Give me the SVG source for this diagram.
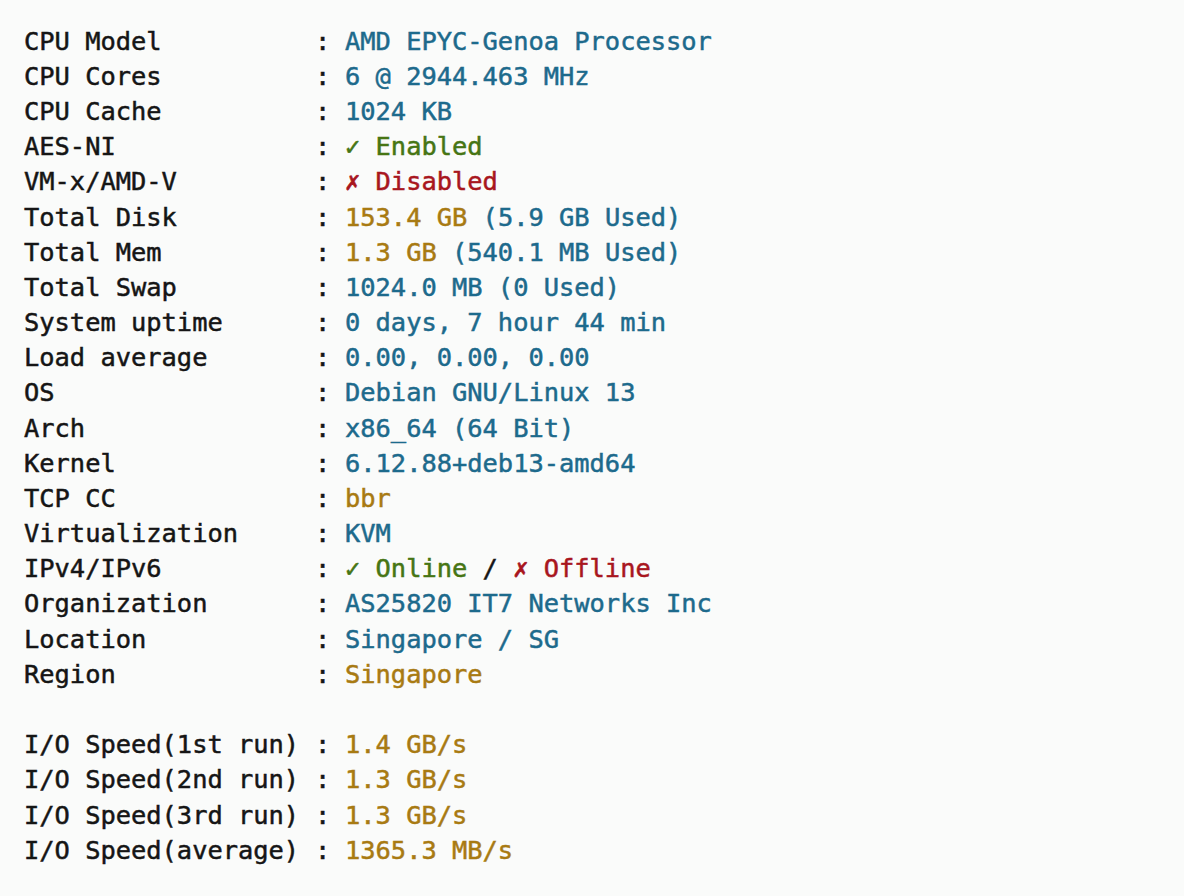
<svg xmlns="http://www.w3.org/2000/svg" width="1184" height="896" viewBox="0 0 1184 896">
<style>
text{font-family:"DejaVu Sans Mono","Liberation Mono",monospace;font-size:25.4px;fill:#151515;stroke:#151515;stroke-width:0.5px}
.c{fill:#1d6a8c;stroke:#1d6a8c}.g{fill:#467514;stroke:#467514}.r{fill:#a8161e;stroke:#a8161e}.y{fill:#a87a12;stroke:#a87a12}
</style>
<rect width="1184" height="896" fill="#fafbfa" stroke="none"/>
<g id="labels">
<text x="24" y="50">CPU Model</text>
<text x="24" y="85">CPU Cores</text>
<text x="24" y="120">CPU Cache</text>
<text x="24" y="155">AES-NI</text>
<text x="24" y="190">VM-x/AMD-V</text>
<text x="24" y="226">Total Disk</text>
<text x="24" y="261">Total Mem</text>
<text x="24" y="296">Total Swap</text>
<text x="24" y="331">System uptime</text>
<text x="24" y="366">Load average</text>
<text x="24" y="401">OS</text>
<text x="24" y="437">Arch</text>
<text x="24" y="472">Kernel</text>
<text x="24" y="507">TCP CC</text>
<text x="24" y="542">Virtualization</text>
<text x="24" y="577">IPv4/IPv6</text>
<text x="24" y="612">Organization</text>
<text x="24" y="648">Location</text>
<text x="24" y="683">Region</text>
<text x="24" y="753">I/O Speed(1st run)</text>
<text x="24" y="788">I/O Speed(2nd run)</text>
<text x="24" y="824">I/O Speed(3rd run)</text>
<text x="24" y="859">I/O Speed(average)</text>
</g>
<g id="colons">
<text x="315" y="50">:</text><text x="315" y="85">:</text><text x="315" y="120">:</text><text x="315" y="155">:</text><text x="315" y="190">:</text><text x="315" y="226">:</text><text x="315" y="261">:</text><text x="315" y="296">:</text><text x="315" y="331">:</text><text x="315" y="366">:</text><text x="315" y="401">:</text><text x="315" y="437">:</text><text x="315" y="472">:</text><text x="315" y="507">:</text><text x="315" y="542">:</text><text x="315" y="577">:</text><text x="315" y="612">:</text><text x="315" y="648">:</text><text x="315" y="683">:</text><text x="315" y="753">:</text><text x="315" y="788">:</text><text x="315" y="824">:</text><text x="315" y="859">:</text>
</g>
<g id="values">
<text x="345" y="50" class="c">AMD EPYC-Genoa Processor</text>
<text x="345" y="85" class="c">6 @ 2944.463 MHz</text>
<text x="345" y="120" class="c">1024 KB</text>
<text x="345" y="155" class="g">✓ Enabled</text>
<text x="345" y="190" class="r">✗ Disabled</text>
<text x="345" y="226"><tspan class="y">153.4 GB</tspan> <tspan class="c">(5.9 GB Used)</tspan></text>
<text x="345" y="261"><tspan class="y">1.3 GB</tspan> <tspan class="c">(540.1 MB Used)</tspan></text>
<text x="345" y="296" class="c">1024.0 MB (0 Used)</text>
<text x="345" y="331" class="c">0 days, 7 hour 44 min</text>
<text x="345" y="366" class="c">0.00, 0.00, 0.00</text>
<text x="345" y="401" class="c">Debian GNU/Linux 13</text>
<text x="345" y="437" class="c">x86_64 (64 Bit)</text>
<text x="345" y="472" class="c">6.12.88+deb13-amd64</text>
<text x="345" y="507" class="y">bbr</text>
<text x="345" y="542" class="c">KVM</text>
<text x="345" y="577"><tspan class="g">✓ Online</tspan> / <tspan class="r">✗ Offline</tspan></text>
<text x="345" y="612" class="c">AS25820 IT7 Networks Inc</text>
<text x="345" y="648" class="c">Singapore / SG</text>
<text x="345" y="683" class="y">Singapore</text>
<text x="345" y="753" class="y">1.4 GB/s</text>
<text x="345" y="788" class="y">1.3 GB/s</text>
<text x="345" y="824" class="y">1.3 GB/s</text>
<text x="345" y="859" class="y">1365.3 MB/s</text>
</g>
</svg>
